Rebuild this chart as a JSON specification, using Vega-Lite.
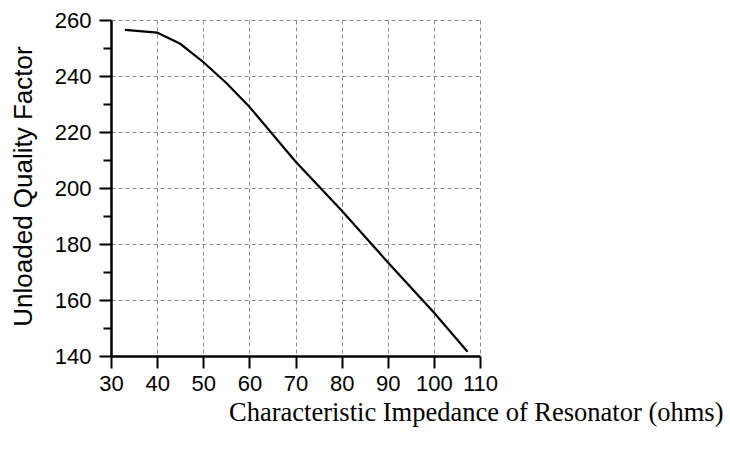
{
  "$schema": "https://vega.github.io/schema/vega-lite/v6.json",
  "autosize": "none",
  "width": 369,
  "height": 336,
  "padding": {"left": 111, "top": 20, "right": 250, "bottom": 97},
  "background": "white",
  "config": {"view": {"stroke": null}},
  "data": {
    "values": [
      {"z": 33, "q": 256.5},
      {"z": 40, "q": 255.5},
      {"z": 45, "q": 251.5},
      {"z": 50, "q": 245},
      {"z": 55, "q": 237.5},
      {"z": 60, "q": 229},
      {"z": 70, "q": 209.5},
      {"z": 80, "q": 192},
      {"z": 90, "q": 173.5},
      {"z": 100, "q": 155.5},
      {"z": 107.3, "q": 141.5}
    ]
  },
  "mark": {"type": "line", "color": "black", "strokeWidth": 2.2},
  "encoding": {
    "x": {
      "field": "z",
      "type": "quantitative",
      "scale": {"domain": [30, 110], "nice": false, "zero": false},
      "axis": {
        "values": [30, 40, 50, 60, 70, 80, 90, 100, 110],
        "title": "Characteristic Impedance of Resonator (ohms)",
        "titleFont": "Liberation Serif",
        "titleFontSize": 26.5,
        "titleFontWeight": "normal",
        "titleColor": "black",
        "titleAlign": "right",
        "titleBaseline": "alphabetic",
        "titleX": 612,
        "titleY": 64,
        "labelFont": "Liberation Sans",
        "labelFontSize": 22,
        "labelColor": "black",
        "labelPadding": 5,
        "labelFlush": false,
        "labelOverlap": false,
        "domainColor": "black",
        "domainWidth": 2.5,
        "tickColor": "black",
        "tickWidth": 2,
        "tickSize": 12,
        "grid": true,
        "gridColor": "#8c8c8c",
        "gridDash": [4, 3],
        "gridWidth": 1
      }
    },
    "y": {
      "field": "q",
      "type": "quantitative",
      "scale": {"domain": [140, 260], "nice": false, "zero": false},
      "axis": {
        "values": [140, 150, 160, 170, 180, 190, 200, 210, 220, 230, 240, 250, 260],
        "labelExpr": "datum.value % 20 === 0 ? datum.label : ''",
        "title": "Unloaded Quality Factor",
        "titleFont": "Liberation Sans",
        "titleFontSize": 26,
        "titleFontWeight": "normal",
        "titleColor": "black",
        "titleAngle": -90,
        "titleAlign": "center",
        "titleBaseline": "alphabetic",
        "titleX": -80,
        "titleY": 166,
        "labelFont": "Liberation Sans",
        "labelFontSize": 22,
        "labelColor": "black",
        "labelPadding": 8,
        "labelFlush": false,
        "labelOverlap": false,
        "domainColor": "black",
        "domainWidth": 2.5,
        "tickColor": "black",
        "tickWidth": 2,
        "tickSize": {"condition": {"test": "datum.value % 20 === 0", "value": 12}, "value": 8},
        "grid": true,
        "gridColor": "#8c8c8c",
        "gridDash": [4, 3],
        "gridWidth": 1,
        "gridOpacity": {"condition": {"test": "datum.value % 20 === 0", "value": 1}, "value": 0}
      }
    }
  }
}
